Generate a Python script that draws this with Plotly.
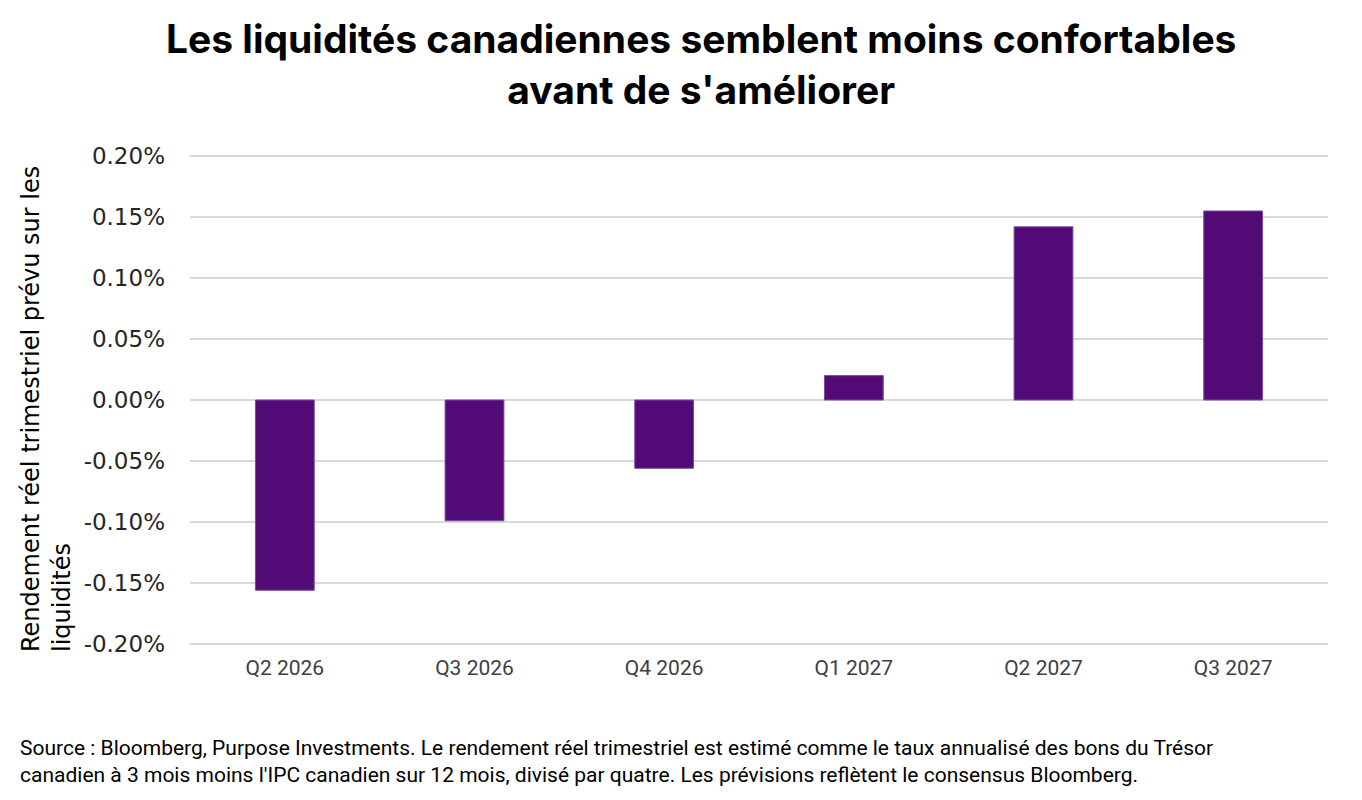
import plotly.graph_objects as go

categories = ["Q2 2026", "Q3 2026", "Q4 2026", "Q1 2027", "Q2 2027", "Q3 2027"]
values = [-0.156, -0.099, -0.056, 0.020, 0.142, 0.155]  # percent
tick_vals = [0.20, 0.15, 0.10, 0.05, 0.00, -0.05, -0.10, -0.15, -0.20]
tick_text = ["0.20%", "0.15%", "0.10%", "0.05%", "0.00%", "-0.05%", "-0.10%", "-0.15%", "-0.20%"]

title_text = "Les liquidités canadiennes semblent moins confortables<br>avant de s'améliorer"
ytitle_text = "Rendement réel trimestriel prévu sur les<br>liquidités"
footer_text = ("Source : Bloomberg, Purpose Investments. Le rendement réel trimestriel est estimé comme le taux annualisé des bons du Trésor<br>"
               "canadien à 3 mois moins l'IPC canadien sur 12 mois, divisé par quatre. Les prévisions reflètent le consensus Bloomberg.")

# page has an 8px body margin; work in screen coordinates and convert
OFF = 8
W, H = 1362 - OFF, 800 - OFF
plot_left, plot_right, plot_top, plot_bottom = 190, 1328, 150, 650
L = plot_left - OFF
R = W - (plot_right - OFF)
T = plot_top - OFF
B = H - (plot_bottom - OFF)
pw, ph = plot_right - plot_left, plot_bottom - plot_top

def px_x(p):
    return (p - plot_left) / pw

def px_y(p):
    return (plot_bottom - p) / ph

fig = go.Figure(go.Bar(
    x=categories, y=values,
    marker=dict(color="#510A76", line=dict(color="#7B4A9A", width=1)),
    width=0.31,
))

fig.update_layout(
    width=W, height=H,
    margin=dict(l=L, r=R, t=T, b=B),
    paper_bgcolor="white", plot_bgcolor="white",
    showlegend=False,
    xaxis=dict(
        showgrid=False, showline=False, zeroline=False, ticks="",
        tickfont=dict(family="Liberation Sans Narrow, Roboto, sans-serif", size=21, color="#404040"),
        ticklabelstandoff=3,
    ),
    yaxis=dict(
        range=[-0.205, 0.205], tickvals=tick_vals, ticktext=tick_text,
        showgrid=True, gridcolor="#D9D9D9", gridwidth=2,
        zeroline=True, zerolinecolor="#D9D9D9", zerolinewidth=2,
        showline=False, ticks="",
        tickfont=dict(family="DejaVu Sans, sans-serif", size=23, color="#262626"),
        ticklabelstandoff=24,
    ),
    annotations=[
        dict(text="<b>" + title_text + "</b>", xref="paper", yref="paper",
             x=px_x(701), y=px_y(64), xanchor="center", yanchor="middle",
             showarrow=False, align="center",
             font=dict(family="Inter, Lato, sans-serif", size=39, color="#000000")),
        dict(text=ytitle_text, xref="paper", yref="paper",
             x=px_x(46), y=px_y(409), xanchor="center", yanchor="middle",
             textangle=-90, showarrow=False, align="left",
             font=dict(family="DejaVu Sans, sans-serif", size=24, color="#000000")),
        dict(text=footer_text, xref="paper", yref="paper",
             x=px_x(18), y=px_y(761), xanchor="left", yanchor="middle",
             showarrow=False, align="left",
             font=dict(family="Liberation Sans Narrow, Roboto, sans-serif", size=21, color="#000000")),
    ],
)

fig.write_html("out.html")
